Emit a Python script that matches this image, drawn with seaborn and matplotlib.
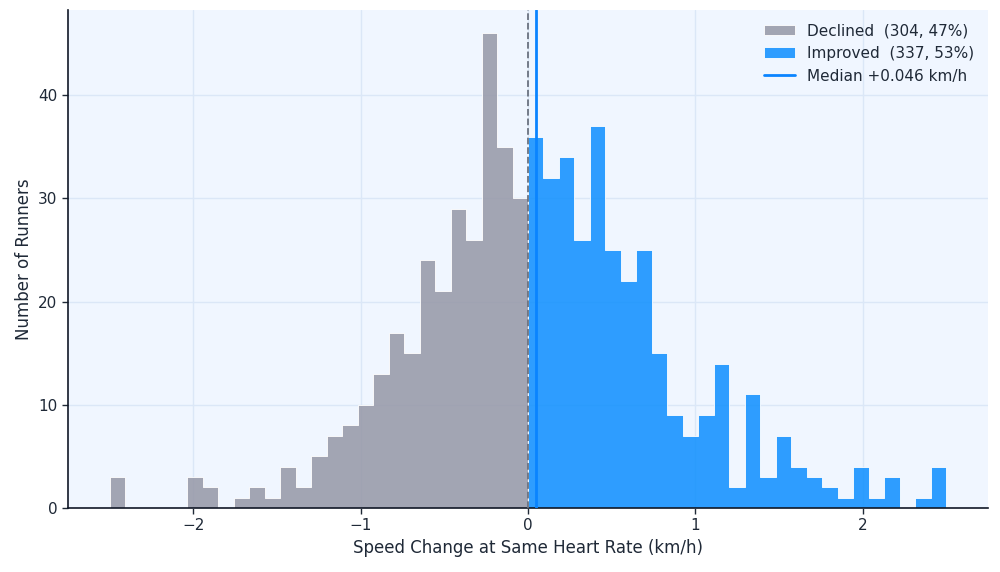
import matplotlib

matplotlib.use("Agg")
import matplotlib.pyplot as plt
import numpy as np
import pandas as pd
import seaborn as sns

# bin edges: 54 equal bins from -2.5 to 2.5 (0 is the middle edge)
bin_edges = np.linspace(-2.5, 2.5, 55)

declined_counts = [3, 0, 0, 0, 0, 3, 2, 0, 1, 2, 1, 4, 2, 5, 7, 8, 10, 13, 17,
                   15, 24, 21, 29, 26, 46, 35, 30]
improved_counts = [36, 32, 34, 26, 37, 25, 22, 25, 15, 9, 7, 9, 14, 2, 11, 3, 7,
                   4, 3, 2, 1, 4, 1, 3, 0, 1, 4]
median_change = 0.046

centers = (bin_edges[:-1] + bin_edges[1:]) / 2
declined = pd.DataFrame({"change": centers[:27], "runners": declined_counts})
improved = pd.DataFrame({"change": centers[27:], "runners": improved_counts})

GREY = "#9597a6"
BLUE = "#0c8eff"
LINE_BLUE = "#0a84ff"
BG = "#f0f6ff"
TEXT = "#1f2937"

sns.set_style("white")
plt.rcParams["font.family"] = ["DejaVu Sans"]

fig, ax = plt.subplots(figsize=(10, 5.72), dpi=100)
fig.subplots_adjust(left=0.068, right=0.988, top=0.983, bottom=0.112)
ax.set_facecolor(BG)

n_dec = int(declined["runners"].sum())
n_imp = int(improved["runners"].sum())
total = n_dec + n_imp

sns.histplot(data=declined, x="change", weights="runners", bins=list(bin_edges[:28]),
             element="step", ax=ax, color=GREY, alpha=0.85, edgecolor="white",
             linewidth=0.6, label=f"Declined  ({n_dec}, {n_dec / total:.0%})",
             zorder=2)
sns.histplot(data=improved, x="change", weights="runners", bins=list(bin_edges[27:]),
             element="step", ax=ax, color=BLUE, alpha=0.85, edgecolor="white",
             linewidth=0.6, label=f"Improved  ({n_imp}, {n_imp / total:.0%})",
             zorder=2)

ax.axvline(0, color="#6b7280", linestyle="--", linewidth=1.3, zorder=3)
ax.axvline(median_change, color=LINE_BLUE, linewidth=2, zorder=4,
           label=f"Median {median_change:+.3f} km/h")

ax.set_xlim(-2.75, 2.75)
ax.set_ylim(0, 48.3)
ax.set_yticks([0, 10, 20, 30, 40])
ax.grid(True, color="#dbe7f7", linewidth=1, zorder=0)
ax.set_axisbelow(True)

for side in ["top", "right"]:
    ax.spines[side].set_visible(False)
for side in ["left", "bottom"]:
    ax.spines[side].set_color("#111827")
    ax.spines[side].set_linewidth(1.2)

ax.tick_params(axis="both", colors=TEXT, labelsize=11, length=4, width=1,
               left=True, bottom=True)
ax.set_xlabel("Speed Change at Same Heart Rate (km/h)", fontsize=12, color=TEXT)
ax.set_ylabel("Number of Runners", fontsize=12, color=TEXT)

handles, labels = ax.get_legend_handles_labels()
order = [labels.index(l) for l in labels if l.startswith("Declined")] + \
        [labels.index(l) for l in labels if l.startswith("Improved")] + \
        [labels.index(l) for l in labels if l.startswith("Median")]
leg = ax.legend([handles[i] for i in order], [labels[i] for i in order],
                loc="upper right", frameon=False, fontsize=11)
for t in leg.get_texts():
    t.set_color(TEXT)

fig.savefig("out.png", dpi=100, facecolor="white")
